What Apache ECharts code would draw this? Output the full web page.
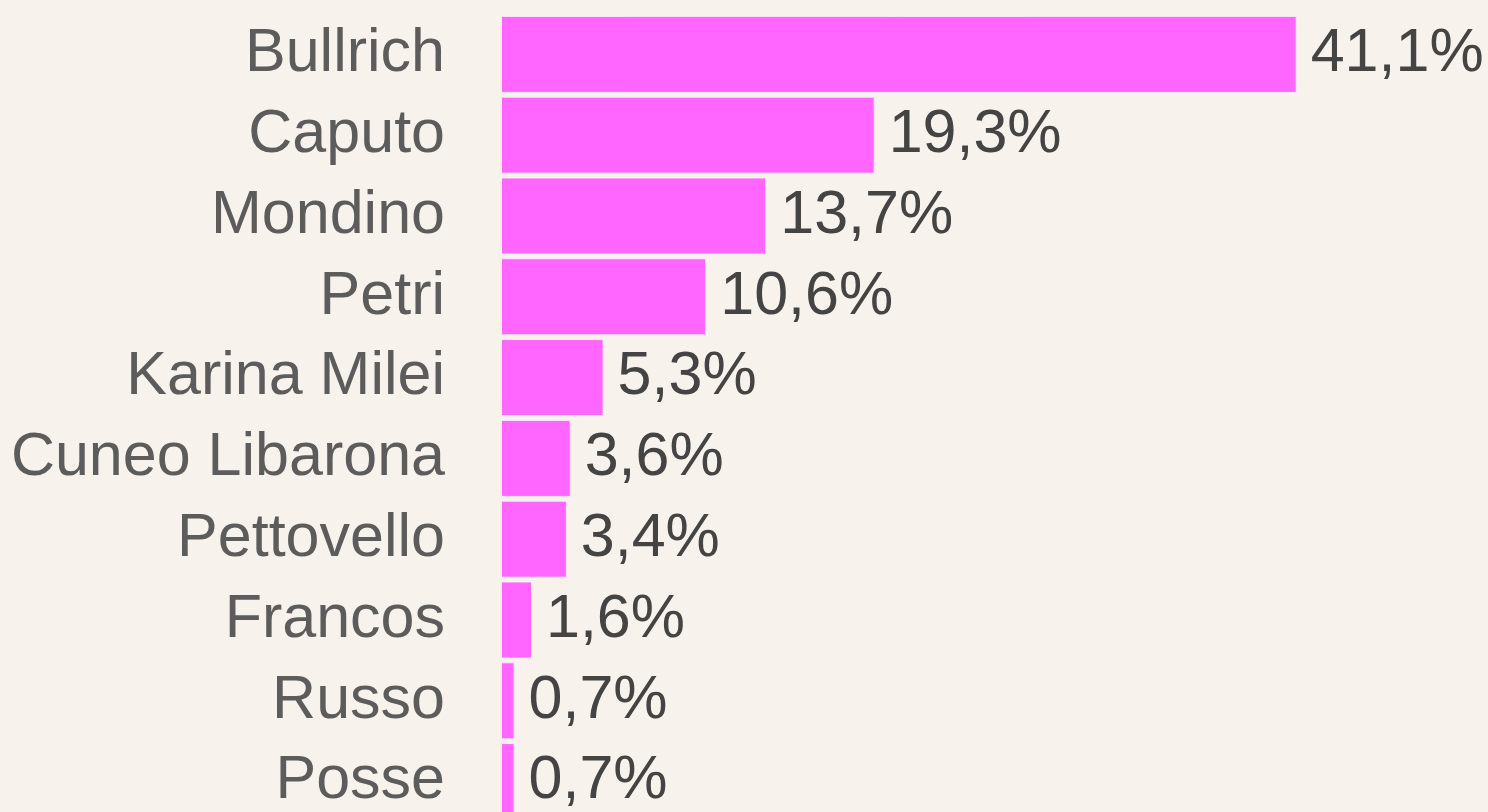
<!DOCTYPE html>
<html><head><meta charset="utf-8">
<script src="https://cdn.jsdelivr.net/npm/echarts@6/dist/echarts.min.js"></script>
<style>html,body{margin:0;padding:0;background:#f7f2ec;}#c{width:1488px;height:812px;}</style>
</head><body><div id="c"></div>
<script>
const categories = ["Bullrich","Caputo","Mondino","Petri","Karina Milei","Cuneo Libarona","Pettovello","Francos","Russo","Posse"];
const values = [41.1,19.3,13.7,10.6,5.3,3.6,3.4,1.6,0.7,0.7];
const chart = echarts.init(document.getElementById('c'));
chart.setOption({
  backgroundColor:'#f7f2ec',
  animation:false,
  grid:{left:501,top:14,width:968,height:808,containLabel:false,outerBoundsMode:'none'},
  xAxis:{type:'value',min:0,max:50,show:false},
  yAxis:{type:'category',data:categories,inverse:true,
    axisLine:{show:false},axisTick:{show:false},
    axisLabel:{fontFamily:'Liberation Sans, Arial, sans-serif',fontSize:61,color:'#5c5c5c',margin:56,padding:[0,0,4,0]}},
  series:[{type:'bar',data:values,barWidth:77,
    itemStyle:{color:'#ff66ff',borderColor:'rgba(255,235,255,0.9)',borderWidth:1},
    label:{show:true,position:'right',distance:14,fontFamily:'Liberation Sans, Arial, sans-serif',fontSize:61,color:'#444444',
      formatter:p=>p.value.toFixed(1).replace('.',',')+'%'}}]
});
</script></body></html>
